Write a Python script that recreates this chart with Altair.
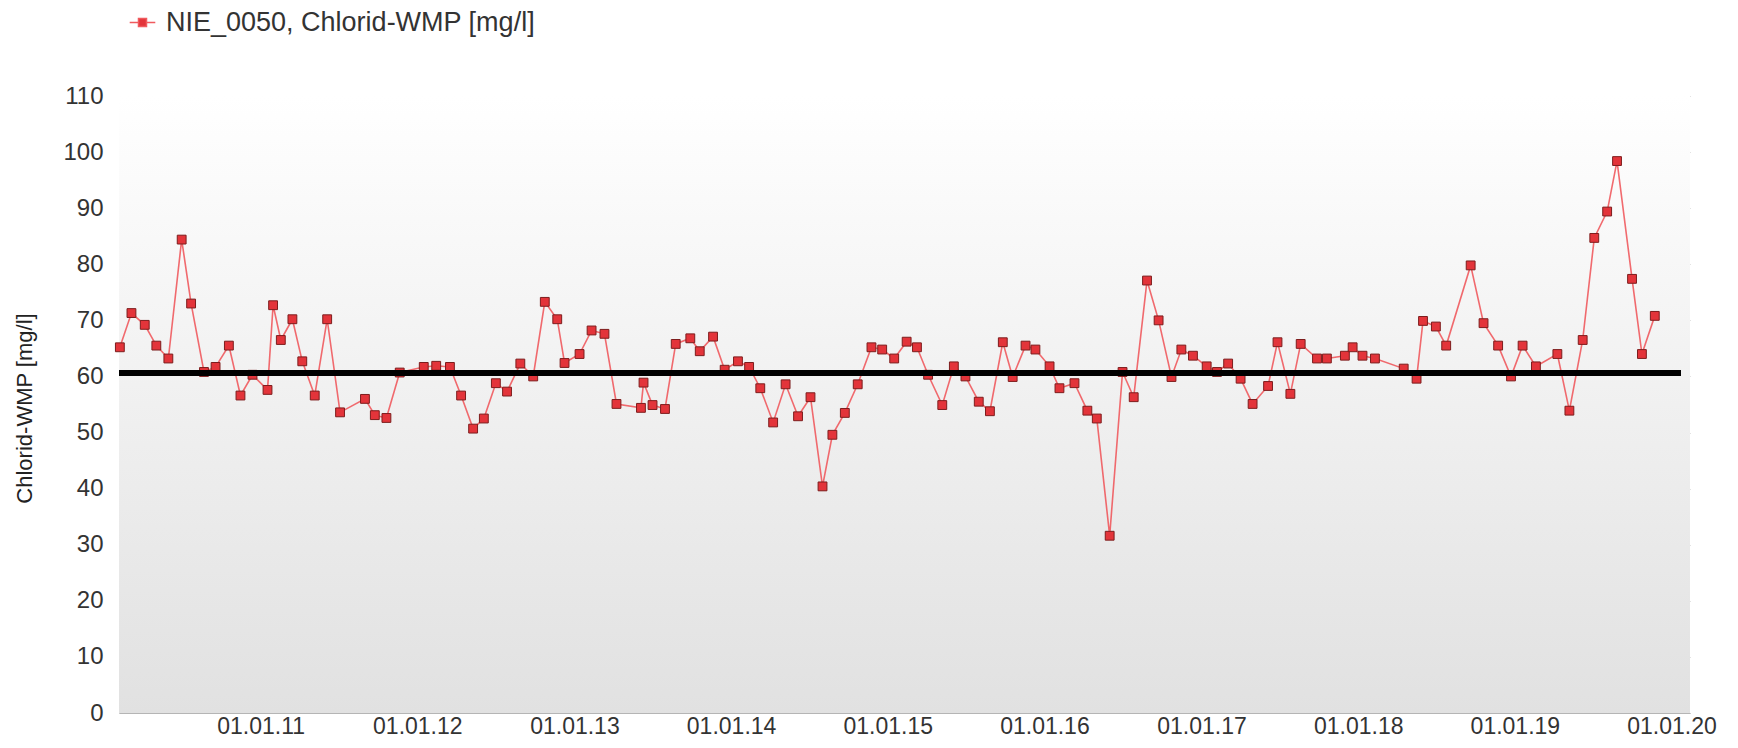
import altair as alt
import pandas as pd

# ---- data ----
dates = [
    "2010-02-07", "2010-03-06", "2010-04-06", "2010-05-03", "2010-05-31", "2010-07-01",
    "2010-07-23", "2010-08-22", "2010-09-18", "2010-10-19", "2010-11-15", "2010-12-13",
    "2011-01-17", "2011-01-30", "2011-02-17", "2011-03-16", "2011-04-08", "2011-05-07",
    "2011-06-05", "2011-07-05", "2011-09-01", "2011-09-24", "2011-10-21", "2011-11-21",
    "2012-01-16", "2012-02-14", "2012-03-17", "2012-04-12", "2012-05-10", "2012-06-04",
    "2012-07-02", "2012-07-28", "2012-08-28", "2012-09-27", "2012-10-24", "2012-11-22",
    "2012-12-09", "2013-01-13", "2013-02-10", "2013-03-12", "2013-04-09", "2013-06-05",
    "2013-06-11", "2013-07-02", "2013-07-31", "2013-08-25", "2013-09-28", "2013-10-20",
    "2013-11-20", "2013-12-17", "2014-01-17", "2014-02-12", "2014-03-10", "2014-04-09",
    "2014-05-08", "2014-06-06", "2014-07-05", "2014-08-02", "2014-08-25", "2014-09-23",
    "2014-10-23", "2014-11-24", "2014-12-19", "2015-01-16", "2015-02-14", "2015-03-10",
    "2015-04-05", "2015-05-08", "2015-06-04", "2015-07-01", "2015-08-01", "2015-08-27",
    "2015-09-26", "2015-10-19", "2015-11-18", "2015-12-11", "2016-01-13", "2016-02-05",
    "2016-03-11", "2016-04-10", "2016-05-02", "2016-06-01", "2016-07-01", "2016-07-27",
    "2016-08-27", "2016-09-23", "2016-10-23", "2016-11-15", "2016-12-12", "2017-01-13",
    "2017-02-06", "2017-03-04", "2017-04-02", "2017-04-30", "2017-06-05", "2017-06-27",
    "2017-07-27", "2017-08-20", "2017-09-27", "2017-10-20", "2017-12-01", "2017-12-19",
    "2018-01-11", "2018-02-09", "2018-04-17", "2018-05-17", "2018-06-01", "2018-07-01",
    "2018-07-25", "2018-09-20", "2018-10-20", "2018-11-23", "2018-12-23", "2019-01-19",
    "2019-02-19", "2019-04-10", "2019-05-08", "2019-06-08", "2019-07-05", "2019-08-04",
    "2019-08-27", "2019-10-01", "2019-10-24", "2019-11-23",
]
values = [
    65.2, 71.3, 69.2, 65.5, 63.2, 84.4, 73.0, 60.8, 61.7, 65.5, 56.6, 60.3,
    57.6, 72.7, 66.5, 70.2, 62.7, 56.6, 70.2, 53.6, 56.0, 53.1, 52.6, 60.7,
    61.7, 61.9, 61.7, 56.6, 50.7, 52.5, 58.8, 57.3, 62.3, 60.0, 73.3, 70.2,
    62.4, 64.0, 68.2, 67.6, 55.1, 54.4, 58.9, 54.9, 54.2, 65.8, 66.8, 64.5,
    67.1, 61.2, 62.7, 61.7, 57.9, 51.8, 58.6, 52.9, 56.3, 40.4, 49.6, 53.5,
    58.6, 65.2, 64.8, 63.2, 66.2, 65.2, 60.3, 54.9, 61.8, 60.0, 55.5, 53.8,
    66.1, 59.9, 65.5, 64.8, 61.8, 57.9, 58.8, 53.9, 52.5, 31.6, 60.8, 56.3,
    77.1, 70.0, 59.9, 64.8, 63.7, 61.8, 60.8, 62.3, 59.6, 55.1, 58.3, 66.1,
    56.9, 65.8, 63.2, 63.2, 63.7, 65.2, 63.7, 63.2, 61.4, 59.6, 69.9, 68.9,
    65.5, 79.8, 69.5, 65.5, 60.0, 65.5, 61.8, 64.0, 53.9, 66.5, 84.7, 89.4,
    98.4, 77.4, 64.0, 70.8,
]
series_name = "NIE_0050, Chlorid-WMP [mg/l]"
y_title = "Chlorid-WMP [mg/l]"
y_ticks = [0, 10, 20, 30, 40, 50, 60, 70, 80, 90, 100, 110]
x_tick_years = [2011, 2012, 2013, 2014, 2015, 2016, 2017, 2018, 2019, 2020]
x_domain = [(2010, 2, 5), (2020, 2, 13)]
ref_value = [60.6]
ref_start = ["2010-02-05"]
ref_end = ["2020-01-23"]

# ---- layout ----
PLOT_W, PLOT_H = 1571, 617
FONT = "Liberation Sans"

df = pd.DataFrame({
    "date": [d + "T00:00:00" for d in dates],
    "value": values,
    "series": [series_name] * len(values),
})
ref_df = pd.DataFrame({
    "start": [s + "T00:00:00" for s in ref_start],
    "end": [e + "T00:00:00" for e in ref_end],
    "value": ref_value,
})

x_scale = alt.Scale(domain=[alt.DateTime(year=y, month=m, date=d) for (y, m, d) in x_domain])
y_scale = alt.Scale(domain=[0, 110], nice=False, zero=True)

x_axis = alt.Axis(
    values=[alt.DateTime(year=y, month=1, date=1) for y in x_tick_years],
    format="%d.%m.%y", title=None, grid=True, ticks=False, domain=True,
    domainColor="#b5b5b5", labelPadding=2, labelFontSize=23,
    labelOverlap=False, labelFlush=False,
)
y_axis = alt.Axis(
    values=y_ticks, title=y_title, grid=True, ticks=False, domain=False,
    labelPadding=16, titleX=-95, titleY=312, titleAngle=270,
    titleAlign="center", titleBaseline="middle",
)

gradient = alt.LinearGradient(
    gradient="linear",
    stops=[alt.GradientStop(color="#ffffff", offset=0),
           alt.GradientStop(color="#e1e1e1", offset=1)],
    x1=0, x2=0, y1=0, y2=1,
)

background = alt.Chart(alt.Data(values=[{}])).mark_rect(color=gradient).encode(
    x=alt.value(0), x2=alt.value(PLOT_W), y=alt.value(0), y2=alt.value(PLOT_H)
)

legend_path = "M-1.6,0H-0.5M0.5,0H1.6M-0.5,-0.5H0.5V0.5H-0.5Z"

line = alt.Chart(df).mark_line(strokeWidth=1.6, opacity=0.9).encode(
    x=alt.X("date:T", scale=x_scale, axis=x_axis),
    y=alt.Y("value:Q", scale=y_scale, axis=y_axis),
    color=alt.Color(
        "series:N",
        scale=alt.Scale(range=["#f05a5e"]),
        legend=alt.Legend(
            title=None, orient="none", legendX=10, legendY=-87,
            symbolType=legend_path, symbolSize=256, symbolStrokeWidth=1.5,
            symbolFillColor="#e3343a", symbolOpacity=1,
            labelFontSize=27, labelFont=FONT, labelColor="#333333",
            labelOffset=10, padding=0, labelLimit=0,
        ),
    ),
)

points = alt.Chart(df).mark_point(
    shape="square", filled=True, size=78, fill="#e3343a", stroke="#7d1d1d",
    strokeWidth=1, opacity=1,
).encode(
    x=alt.X("date:T", scale=x_scale),
    y=alt.Y("value:Q", scale=y_scale),
)

rule = alt.Chart(ref_df).mark_rule(color="black", strokeWidth=6).encode(
    x=alt.X("start:T", scale=x_scale),
    x2="end:T",
    y=alt.Y("value:Q", scale=y_scale),
)

chart = alt.layer(background, line, points, rule).properties(
    width=PLOT_W, height=PLOT_H,
    autosize=alt.AutoSizeParams(type="none"),
    padding={"left": 111, "top": 88, "right": 40, "bottom": 27},
).configure_view(stroke=None).configure_axis(
    labelFont=FONT, labelFontSize=24, labelColor="#333333",
    titleFont=FONT, titleFontSize=22, titleFontWeight="normal", titleColor="#222222",
    gridColor="#c4c4c4", gridWidth=1,
)

chart.save("out.html", embed_options={"renderer": "svg", "actions": False})
